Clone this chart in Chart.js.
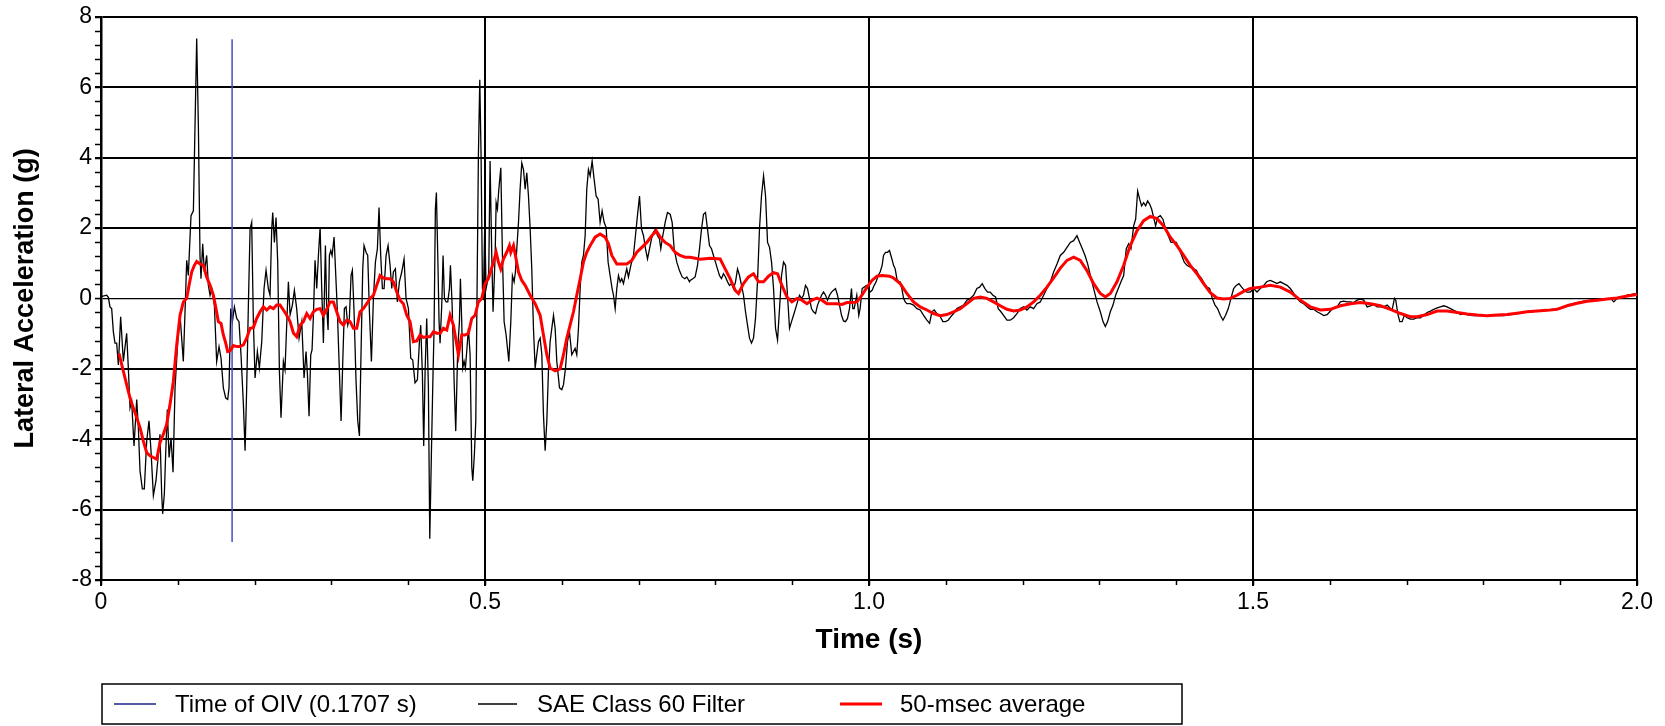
<!DOCTYPE html>
<html lang="en">
<head>
<meta charset="UTF-8">
<title>Lateral Acceleration</title>
<style>
  html, body { margin: 0; padding: 0; background: #fff; }
  #wrap { width: 1665px; height: 726px; }
</style>
</head>
<body>
<div id="wrap"><canvas id="accelChart" width="1665" height="726"></canvas></div>

<script src="https://cdn.jsdelivr.net/npm/chart.js"></script>
<script>
// time of OIV marker and the span of its vertical line (g)
const oivTime = 0.1707;
const oivSpan = [7.36, -6.92];

// SAE Class 60 filtered signal: time (s) / lateral acceleration (g)
const filterTime = [
  0.0000, 0.0074, 0.0096, 0.0117, 0.0139, 0.0161, 0.0182, 0.0204, 0.0226, 0.0256,
  0.0291, 0.0334, 0.0356, 0.0378, 0.0399, 0.0430, 0.0465, 0.0486, 0.0508, 0.0538,
  0.0564, 0.0595, 0.0625, 0.0651, 0.0682, 0.0716, 0.0747, 0.0768, 0.0790, 0.0803,
  0.0825, 0.0842, 0.0864, 0.0886, 0.0912, 0.0938, 0.0964, 0.0999, 0.1029, 0.1072,
  0.1094, 0.1116, 0.1137, 0.1172, 0.1203, 0.1224, 0.1246, 0.1268, 0.1289, 0.1302,
  0.1324, 0.1346, 0.1376, 0.1398, 0.1420, 0.1441, 0.1476, 0.1506, 0.1537, 0.1563,
  0.1593, 0.1624, 0.1650, 0.1667, 0.1689, 0.1711, 0.1737, 0.1767, 0.1797, 0.1823,
  0.1854, 0.1876, 0.1897, 0.1919, 0.1941, 0.1962, 0.1984, 0.2006, 0.2036, 0.2062,
  0.2093, 0.2123, 0.2149, 0.2179, 0.2201, 0.2223, 0.2236, 0.2258, 0.2279, 0.2301,
  0.2323, 0.2344, 0.2375, 0.2396, 0.2423, 0.2440, 0.2462, 0.2492, 0.2518, 0.2548,
  0.2579,
  0.2614, 0.2644, 0.2670, 0.2688, 0.2709, 0.2731, 0.2748, 0.2766, 0.2787, 0.2809,
  0.2831, 0.2853, 0.2874, 0.2896, 0.2922, 0.2939, 0.2957, 0.2974, 0.2992, 0.3009,
  0.3035, 0.3057, 0.3078, 0.3104, 0.3126, 0.3148, 0.3169, 0.3191, 0.3213, 0.3234,
  0.3256, 0.3273, 0.3295, 0.3321, 0.3343, 0.3365, 0.3382, 0.3408, 0.3425, 0.3451,
  0.3473, 0.3495, 0.3521, 0.3547, 0.3573, 0.3599, 0.3620, 0.3642, 0.3664, 0.3686,
  0.3712, 0.3738, 0.3764, 0.3786, 0.3807, 0.3833, 0.3859, 0.3885, 0.3916, 0.3946,
  0.3972, 0.4003, 0.4033, 0.4059, 0.4089, 0.4120, 0.4146, 0.4163, 0.4185, 0.4202,
  0.4220, 0.4241, 0.4263, 0.4281, 0.4302, 0.4320, 0.4337, 0.4354, 0.4367, 0.4385,
  0.4402, 0.4415, 0.4437, 0.4454, 0.4472, 0.4493, 0.4515, 0.4537, 0.4550, 0.4572,
  0.4598, 0.4619, 0.4645, 0.4667, 0.4680, 0.4697, 0.4710, 0.4728, 0.4745, 0.4762,
  0.4784, 0.4806, 0.4828, 0.4841, 0.4862, 0.4880, 0.4897, 0.4914, 0.4932, 0.4949,
  0.4967, 0.4979, 0.4997, 0.5014, 0.5031, 0.5049, 0.5066, 0.5088, 0.5105,
  0.5132, 0.5145, 0.5162, 0.5180, 0.5206, 0.5227, 0.5249, 0.5275, 0.5310, 0.5336,
  0.5357, 0.5379, 0.5396, 0.5414, 0.5436, 0.5457, 0.5479, 0.5501, 0.5523, 0.5544,
  0.5566, 0.5588, 0.5609, 0.5631, 0.5653, 0.5674, 0.5696, 0.5718, 0.5740, 0.5761,
  0.5783, 0.5805, 0.5826, 0.5848, 0.5870, 0.5892, 0.5913, 0.5935, 0.5970, 0.6000,
  0.6022, 0.6048, 0.6074, 0.6100, 0.6130, 0.6152, 0.6173, 0.6195, 0.6217, 0.6239,
  0.6260, 0.6282, 0.6304, 0.6325, 0.6347, 0.6369, 0.6395, 0.6421, 0.6447, 0.6473,
  0.6499, 0.6525, 0.6551, 0.6577, 0.6603, 0.6629, 0.6655, 0.6673, 0.6695, 0.6716,
  0.6738, 0.6760, 0.6781, 0.6803, 0.6825, 0.6846, 0.6868, 0.6899, 0.6933, 0.6959,
  0.6985, 0.7012, 0.7038, 0.7064, 0.7090, 0.7116, 0.7142, 0.7168, 0.7194, 0.7220,
  0.7246, 0.7272, 0.7289, 0.7315, 0.7346, 0.7376, 0.7411, 0.7437, 0.7463, 0.7497,
  0.7532, 0.7567, 0.7602, 0.7628, 0.7663,
  0.7671, 0.7706, 0.7736, 0.7767, 0.7793, 0.7819, 0.7845, 0.7871, 0.7897, 0.7923,
  0.7949, 0.7975, 0.8001, 0.8027, 0.8053, 0.8079, 0.8105, 0.8131, 0.8158, 0.8184,
  0.8210, 0.8236, 0.8262, 0.8288, 0.8314, 0.8340, 0.8366, 0.8392, 0.8418, 0.8444,
  0.8470, 0.8496, 0.8522, 0.8548, 0.8574, 0.8600, 0.8627, 0.8653, 0.8679, 0.8705,
  0.8731, 0.8757, 0.8783, 0.8809, 0.8835, 0.8861, 0.8887, 0.8913, 0.8939, 0.8965,
  0.8991, 0.9017, 0.9043, 0.9069, 0.9095, 0.9121, 0.9147, 0.9173, 0.9199, 0.9225,
  0.9251, 0.9277, 0.9304, 0.9330, 0.9356, 0.9382, 0.9408, 0.9434, 0.9460, 0.9486,
  0.9512, 0.9538, 0.9564, 0.9590, 0.9616, 0.9642, 0.9668, 0.9694, 0.9720, 0.9746,
  0.9772, 0.9789, 0.9807, 0.9824, 0.9841, 0.9867, 0.9884, 0.9911, 0.9937, 0.9963,
  0.9989, 1.0015, 1.0041, 1.0067, 1.0093, 1.0119, 1.0145, 1.0171, 1.0189, 1.0215,
  1.0241, 1.0267,
  1.0298, 1.0320, 1.0341, 1.0363, 1.0385, 1.0406, 1.0428, 1.0450, 1.0472, 1.0493,
  1.0537, 1.0580, 1.0624, 1.0667, 1.0711, 1.0754, 1.0789, 1.0819, 1.0849, 1.0884,
  1.0928, 1.0962, 1.0997, 1.1031, 1.1066, 1.1101, 1.1144, 1.1188, 1.1231, 1.1275,
  1.1318, 1.1362, 1.1405, 1.1440, 1.1474, 1.1509, 1.1544, 1.1578, 1.1613, 1.1648,
  1.1683, 1.1718, 1.1752, 1.1796, 1.1839, 1.1883, 1.1926, 1.1970, 1.2013, 1.2056,
  1.2100, 1.2143, 1.2187, 1.2230, 1.2274, 1.2317, 1.2361, 1.2404, 1.2448, 1.2491,
  1.2535, 1.2578, 1.2621, 1.2665, 1.2708, 1.2743, 1.2778, 1.2813, 1.2847, 1.2882,
  1.2925, 1.2969, 1.3012, 1.3047, 1.3077, 1.3107, 1.3142, 1.3177, 1.3211, 1.3246,
  1.3281, 1.3316, 1.3350, 1.3381, 1.3411, 1.3446, 1.3472, 1.3498, 1.3524, 1.3550,
  1.3576, 1.3602, 1.3628, 1.3654, 1.3680, 1.3706, 1.3732, 1.3758, 1.3793, 1.3827,
  1.3862, 1.3897, 1.3932, 1.3966, 1.4001, 1.4036, 1.4071, 1.4105, 1.4140, 1.4183,
  1.4227, 1.4262, 1.4296, 1.4331, 1.4366, 1.4401, 1.4435, 1.4470, 1.4505, 1.4539,
  1.4574, 1.4609, 1.4643, 1.4678, 1.4713, 1.4748, 1.4782, 1.4817, 1.4852, 1.4887,
  1.4921, 1.4965,
  1.5008, 1.5052, 1.5095, 1.5139, 1.5182, 1.5226, 1.5269, 1.5312, 1.5356, 1.5399,
  1.5443, 1.5486, 1.5530, 1.5573, 1.5617, 1.5660, 1.5703, 1.5747, 1.5790, 1.5834,
  1.5877, 1.5921, 1.5964, 1.6008, 1.6051, 1.6094, 1.6138, 1.6181, 1.6225, 1.6268,
  1.6312, 1.6355, 1.6399, 1.6442, 1.6486, 1.6529, 1.6572, 1.6616, 1.6659, 1.6703,
  1.6746, 1.6811, 1.6842, 1.6859, 1.6885, 1.6911, 1.6941, 1.6971, 1.7006, 1.7049,
  1.7093, 1.7136, 1.7180, 1.7223, 1.7267, 1.7310, 1.7353, 1.7397, 1.7440, 1.7484,
  1.7527, 1.7571, 1.7614, 1.7658, 1.7701, 1.7744, 1.7788, 1.7831, 1.7875, 1.7918,
  1.8005, 1.8092, 1.8179, 1.8265, 1.8352, 1.8438, 1.8525, 1.8612, 1.8699, 1.8786,
  1.8873, 1.8960, 1.9047, 1.9133, 1.9220, 1.9307, 1.9394, 1.9481, 1.9568, 1.9655,
  1.9698, 1.9742, 1.9785, 1.9829, 1.9872, 1.9916, 1.9959, 1.9994
];
const filterAccel = [
  0.05, 0.09, 0.03, -0.24, -0.29, -0.95, -1.27, -1.27, -1.89, -0.52,
  -1.79, -0.99, -1.98, -3.11, -2.92, -4.19, -2.87, -3.67, -4.90, -5.41,
  -5.41, -4.05, -3.48, -4.33, -5.60, -5.18, -4.42, -3.86, -5.55, -6.12,
  -5.55, -4.42, -3.16, -4.52, -3.96, -4.94, -2.54, -1.23, -0.47, -1.79,
  -0.38, 1.08, 0.65, 2.35, 2.49, 4.89, 7.38, 4.89, 1.22, 0.56,
  1.55, 0.75, 1.22, 0.37, 0.09, 0.28, -0.19, -1.79, -1.37, -1.70,
  -2.54, -2.83, -2.87, -2.54, -0.29, -0.66, -0.24, -0.57, -0.66, -1.60,
  -3.01, -4.33, -2.54, -0.19, 1.97, 2.16, -0.66, -2.26, -1.51, -1.98,
  -1.23, 0.28, 0.80, 0.28, 0.09, 1.97, 2.44, 1.59, 2.30, 1.03,
  -2.07, -3.39, -1.79, -2.03, -0.47, 0.47, -0.47, -0.19, 0.23, -0.29,
  -1.13,
  -0.66, -2.26, -1.51, -2.17, -3.35, -1.60, -1.46, -0.47, 1.08, 0.28,
  1.22, 2.02, 0.28, -1.27, 1.50, -0.29, -0.90, 1.22, 1.36, 1.22,
  1.74, 0.65, -0.38, -2.07, -3.48, -1.79, -0.29, -0.24, -0.76, -0.57,
  0.65, 0.80, -0.38, -2.36, -3.48, -3.91, -1.98, 0.84, 1.50, 1.31,
  1.22, -0.38, -1.79, 0.00, 1.03, 1.41, 2.58, 1.22, 0.28, 0.28,
  1.22, 1.50, 0.94, 0.28, 0.75, 0.84, -0.10, 0.47, 0.75, 1.12,
  0.00, -0.29, -1.70, -1.75, -2.40, -2.31, -1.23, -0.76, -2.17, -4.19,
  -2.07, -0.57, -2.54, -6.83, -4.42, -2.45, -0.85, 2.54, 3.01, 1.22,
  -0.66, -1.27, -0.19, 1.22, 0.00, -0.10, -0.10, 0.28, 0.94, -0.19,
  -2.36, -3.77, -1.42, -0.66, 0.56, -0.66, -1.98, -1.79, -1.98, -1.51,
  -0.85, -1.60, -4.80, -5.18, -4.42, -3.48, 0.28, 4.04, 6.21, 4.04,
  0.28, -0.05, 2.16, 0.28, 0.47, 0.75, 3.90, 1.22, -0.38,
  1.22, 2.72, 2.54, 3.10, 3.71, 1.22, -0.66, -1.04, -1.79, -0.66,
  0.65, 0.47, 0.75, 1.41, 2.16, 3.10, 3.85, 3.66, 3.10, 3.57,
  2.91, 1.97, 0.84, -0.85, -1.98, -1.60, -1.23, -1.13, -1.60, -3.30,
  -4.33, -3.49, -2.07, -1.23, -0.85, -0.48, -0.85, -1.79, -2.54, -2.59,
  -2.45, -1.98, -1.23, -0.95, -1.60, -1.51, -1.42, -1.60, -0.85, 0.28,
  1.03, 1.22, 1.78, 3.10, 3.66, 3.48, 3.90, 3.38, 2.91, 2.82,
  2.16, 2.49, 2.16, 2.02, 1.03, 0.65, 0.28, 0.09, -0.29, 0.28,
  0.65, 0.47, 0.56, 0.42, 0.65, 0.84, 0.61, 0.94, 1.22, 1.78,
  2.35, 2.91, 1.97, 1.78, 1.41, 1.12, 1.41, 1.69, 1.88, 1.97,
  1.78, 1.69, 1.41, 1.78, 2.16, 2.44, 2.39, 2.16, 1.41, 1.03,
  0.79, 0.61, 0.56, 0.61, 0.47,
  0.51, 0.56, 0.61, 0.94, 1.41, 1.97, 2.39, 2.44, 1.97, 1.50,
  1.41, 1.22, 1.03, 0.84, 0.65, 0.56, 0.70, 0.61, 0.47, 0.37,
  0.42, 0.28, 0.47, 0.84, 0.65, 0.37, 0.09, -0.38, -0.76, -1.13,
  -1.27, -1.13, -0.57, 0.47, 1.97, 2.91, 3.48, 2.91, 1.59, 1.45,
  1.03, 0.28, -0.85, -1.18, -0.29, 0.65, 1.03, 0.94, 0.09, -0.85,
  -0.66, -0.48, -0.29, -0.10, 0.09, 0.00, 0.09, 0.37, 0.28, 0.00,
  -0.29, -0.38, -0.43, -0.19, -0.05, 0.09, 0.18, 0.09, -0.05, 0.09,
  0.18, 0.23, 0.28, 0.09, -0.19, -0.48, -0.64, -0.66, -0.57, -0.29,
  0.28, -0.29, -0.29, -0.10, 0.09, -0.48, -0.29, 0.28, 0.32, 0.37,
  0.28, 0.18, 0.23, 0.37, 0.47, 0.65, 0.75, 0.94, 1.22, 1.31,
  1.31, 1.36,
  1.12, 0.94, 0.84, 0.56, 0.47, 0.47, 0.28, 0.00, -0.10, -0.15,
  -0.15, -0.19, -0.29, -0.33, -0.48, -0.62, -0.71, -0.38, -0.33, -0.43,
  -0.52, -0.66, -0.66, -0.62, -0.52, -0.43, -0.29, -0.24, -0.19, -0.05,
  0.00, 0.09, 0.28, 0.32, 0.42, 0.28, 0.18, 0.18, 0.09, 0.04,
  -0.29, -0.38, -0.48, -0.62, -0.62, -0.55, -0.43, -0.29, -0.24, -0.33,
  -0.24, -0.29, -0.15, -0.10, 0.09, 0.28, 0.47, 0.75, 0.98, 1.22,
  1.31, 1.45, 1.59, 1.64, 1.78, 1.59, 1.41, 1.22, 0.98, 0.65,
  0.28, -0.10, -0.38, -0.66, -0.80, -0.66, -0.38, -0.19, 0.09, 0.28,
  0.47, 0.65, 1.41, 1.55, 1.41, 2.06, 2.25, 3.05, 2.82, 2.63,
  2.72, 2.63, 2.77, 2.68, 2.54, 2.30, 2.06, 2.30, 2.35, 2.25,
  1.97, 1.78, 1.59, 1.59, 1.59, 1.41, 1.22, 1.03, 0.94, 0.89,
  0.84, 0.80, 0.65, 0.56, 0.42, 0.32, 0.28, 0.00, -0.19, -0.29,
  -0.48, -0.62, -0.48, -0.29, 0.00, 0.28, 0.37, 0.42, 0.32, 0.23,
  0.18, 0.18,
  0.28, 0.18, 0.28, 0.37, 0.48, 0.51, 0.47, 0.42, 0.47, 0.42,
  0.37, 0.28, 0.14, 0.00, -0.10, -0.15, -0.24, -0.31, -0.31, -0.38,
  -0.43, -0.49, -0.46, -0.36, -0.27, -0.24, -0.10, -0.08, -0.10, -0.10,
  -0.12, -0.05, -0.02, -0.05, -0.24, -0.21, -0.17, -0.24, -0.24, -0.24,
  -0.19, -0.33, 0.00, -0.05, -0.43, -0.66, -0.66, -0.48, -0.55, -0.59,
  -0.59, -0.55, -0.55, -0.48, -0.40, -0.36, -0.31, -0.27, -0.24, -0.21,
  -0.24, -0.29, -0.34, -0.38, -0.46, -0.43, -0.46, -0.48, -0.49, -0.49,
  -0.49, -0.49, -0.48, -0.49, -0.46, -0.43, -0.38, -0.38, -0.36, -0.34,
  -0.32, -0.29, -0.24, -0.17, -0.12, -0.08, -0.05, -0.03, -0.02, 0.00,
  -0.10, 0.00, 0.04, 0.04, 0.09, 0.11, 0.13, 0.13
];

// 50-msec running average: time (s) / lateral acceleration (g)
const avgTime = [
  0.0234, 0.0291, 0.0334, 0.0378, 0.0421, 0.0465, 0.0508, 0.0551, 0.0595, 0.0638,
  0.0682, 0.0725, 0.0768, 0.0812, 0.0855, 0.0899, 0.0942, 0.0986, 0.1029, 0.1072,
  0.1116, 0.1146, 0.1181, 0.1216, 0.1246, 0.1289, 0.1333, 0.1376, 0.1420, 0.1463,
  0.1493, 0.1528, 0.1563, 0.1593, 0.1624, 0.1650, 0.1680, 0.1724, 0.1767, 0.1810,
  0.1854, 0.1897, 0.1941, 0.1984, 0.2027, 0.2071, 0.2114, 0.2158, 0.2201, 0.2245,
  0.2288, 0.2331, 0.2375, 0.2418, 0.2462, 0.2505, 0.2548, 0.2592, 0.2635, 0.2679,
  0.2722, 0.2766, 0.2809, 0.2853, 0.2896, 0.2939, 0.2983, 0.3026, 0.3069, 0.3113,
  0.3157, 0.3200, 0.3243, 0.3287, 0.3330, 0.3373, 0.3417, 0.3460, 0.3503, 0.3547,
  0.3590, 0.3634, 0.3677, 0.3721, 0.3764, 0.3807, 0.3851, 0.3894, 0.3937, 0.3981,
  0.4024, 0.4068, 0.4111, 0.4155, 0.4198, 0.4241, 0.4285, 0.4328, 0.4372, 0.4415,
  0.4458, 0.4502, 0.4545, 0.4589, 0.4632, 0.4654, 0.4697, 0.4741, 0.4784, 0.4828,
  0.4871, 0.4914, 0.4958, 0.5001, 0.5044, 0.5110, 0.5145, 0.5175, 0.5205, 0.5240,
  0.5283, 0.5318, 0.5336, 0.5371, 0.5405, 0.5436, 0.5479, 0.5523, 0.5588, 0.5653,
  0.5718, 0.5761, 0.5805, 0.5848, 0.5913, 0.5978, 0.6022, 0.6065, 0.6108, 0.6152,
  0.6195, 0.6239, 0.6282, 0.6325, 0.6369, 0.6434, 0.6499, 0.6564, 0.6608, 0.6651,
  0.6716, 0.6781, 0.6846, 0.6911, 0.6977, 0.7042, 0.7107, 0.7172, 0.7229, 0.7281,
  0.7346, 0.7411, 0.7476, 0.7541, 0.7606, 0.7671, 0.7802, 0.7932, 0.8062, 0.8127,
  0.8192, 0.8258, 0.8301, 0.8366, 0.8431, 0.8496, 0.8561, 0.8627, 0.8692, 0.8757,
  0.8809, 0.8866, 0.8931, 0.8996, 0.9062, 0.9127, 0.9192, 0.9257, 0.9322, 0.9387,
  0.9452, 0.9518, 0.9583, 0.9648, 0.9713, 0.9778, 0.9843, 0.9908, 0.9974, 1.0039,
  1.0104, 1.0169, 1.0268, 1.0320, 1.0406, 1.0493, 1.0580, 1.0667, 1.0754, 1.0840,
  1.0927, 1.1014, 1.1101, 1.1188, 1.1275, 1.1362, 1.1449, 1.1535, 1.1622, 1.1709,
  1.1796, 1.1883, 1.1970, 1.2056, 1.2143, 1.2230, 1.2317, 1.2404, 1.2491, 1.2578,
  1.2665, 1.2751, 1.2838, 1.2925, 1.3012, 1.3077, 1.3142, 1.3229, 1.3316, 1.3402,
  1.3489, 1.3576, 1.3663, 1.3749, 1.3836, 1.3923, 1.4010, 1.4097, 1.4183, 1.4270,
  1.4357, 1.4444, 1.4531, 1.4618, 1.4704, 1.4791, 1.4878, 1.4965, 1.5095, 1.5226,
  1.5356, 1.5486, 1.5617, 1.5747, 1.5877, 1.6008, 1.6138, 1.6268, 1.6399, 1.6529,
  1.6659, 1.6790, 1.6920, 1.7049, 1.7136, 1.7267, 1.7397, 1.7527, 1.7658, 1.7788,
  1.7918, 1.8048, 1.8179, 1.8309, 1.8438, 1.8569, 1.8699, 1.8829, 1.8960, 1.9090,
  1.9220, 1.9351, 1.9481, 1.9611, 1.9742, 1.9872, 2.0000
];
const avgAccel = [
  -1.56, -2.07, -2.45, -2.83, -3.11, -3.39, -3.67, -4.05, -4.38, -4.47,
  -4.52, -4.57, -4.10, -3.86, -3.58, -3.01, -2.36, -1.32, -0.48, -0.10,
  0.00, 0.37, 0.75, 0.94, 1.05, 0.98, 0.94, 0.61, 0.37, 0.09,
  -0.24, -0.66, -0.71, -1.04, -1.27, -1.51, -1.49, -1.34, -1.37, -1.37,
  -1.32, -1.13, -0.85, -0.83, -0.57, -0.38, -0.24, -0.33, -0.24, -0.29,
  -0.19, -0.19, -0.33, -0.48, -0.66, -0.98, -1.09, -0.76, -0.66, -0.43,
  -0.57, -0.38, -0.31, -0.29, -0.48, -0.31, -0.10, -0.10, -0.38, -0.66,
  -0.76, -0.62, -0.66, -0.85, -0.85, -0.38, -0.29, -0.15, 0.00, 0.09,
  0.37, 0.65, 0.58, 0.56, 0.56, 0.47, 0.18, -0.05, -0.15, -0.48,
  -0.66, -1.23, -1.21, -1.04, -1.11, -1.09, -1.09, -0.95, -0.99, -0.99,
  -0.85, -0.90, -0.48, -0.76, -1.32, -1.60, -1.04, -1.04, -0.99, -0.57,
  -0.48, -0.10, 0.00, 0.42, 0.56, 1.03, 1.31, 1.03, 0.84, 1.12,
  1.31, 1.50, 1.31, 1.50, 1.12, 0.75, 0.51, 0.37, 0.09, -0.15,
  -0.48, -1.04, -1.60, -1.98, -2.06, -2.00, -1.60, -1.13, -0.76, -0.38,
  0.09, 0.56, 1.03, 1.31, 1.50, 1.74, 1.83, 1.74, 1.55, 1.22,
  0.98, 0.98, 0.98, 1.08, 1.31, 1.45, 1.59, 1.78, 1.92, 1.74,
  1.59, 1.50, 1.31, 1.22, 1.17, 1.17, 1.11, 1.14, 1.12, 0.84,
  0.56, 0.23, 0.14, 0.42, 0.61, 0.70, 0.47, 0.47, 0.63, 0.73,
  0.70, 0.37, 0.04, -0.10, 0.00, -0.05, -0.15, -0.05, 0.01, -0.05,
  -0.15, -0.15, -0.15, -0.17, -0.12, -0.12, -0.10, 0.09, 0.32, 0.51,
  0.63, 0.65, 0.63, 0.58, 0.42, 0.14, -0.10, -0.24, -0.33, -0.43,
  -0.49, -0.46, -0.38, -0.29, -0.15, 0.00, 0.04, 0.00, -0.10, -0.21,
  -0.31, -0.36, -0.33, -0.24, -0.10, 0.09, 0.32, 0.58, 0.86, 1.08,
  1.17, 1.08, 0.79, 0.42, 0.14, 0.04, 0.14, 0.47, 0.94, 1.50,
  1.92, 2.21, 2.33, 2.27, 2.06, 1.74, 1.50, 1.22, 0.94, 0.70,
  0.42, 0.16, 0.01, -0.02, 0.00, 0.09, 0.20, 0.28, 0.32, 0.37,
  0.32, 0.18, -0.05, -0.24, -0.33, -0.31, -0.21, -0.15, -0.12, -0.15,
  -0.21, -0.31, -0.43, -0.52, -0.52, -0.46, -0.36, -0.36, -0.40, -0.44,
  -0.47, -0.49, -0.47, -0.46, -0.42, -0.38, -0.36, -0.34, -0.31, -0.21,
  -0.14, -0.08, -0.05, -0.02, 0.01, 0.07, 0.11
];

const FONT = '"Liberation Sans", Arial, sans-serif';

const toPoints = (ts, vs) => ts.map((t, i) => ({ x: t, y: vs[i] }));

// small tick marks between the labelled ones: 0.4 g on y, 0.1 s on x
const minorTicks = {
  id: 'minorTicks',
  afterDraw(chart) {
    const { ctx, scales: { x, y } } = chart;
    ctx.save();
    ctx.strokeStyle = '#000';
    ctx.lineWidth = 1.5;
    ctx.beginPath();
    for (let i = 0; i <= 40; i++) {
      const py = Math.round(y.getPixelForValue(-8 + i * 0.4)) + 0.5;
      ctx.moveTo(x.left - 6, py);
      ctx.lineTo(x.left, py);
    }
    for (let i = 0; i <= 20; i++) {
      const px = Math.round(x.getPixelForValue(i * 0.1)) + 0.5;
      ctx.moveTo(px, y.bottom);
      ctx.lineTo(px, y.bottom + 5);
    }
    ctx.stroke();
    ctx.restore();
  }
};

// legend in a box under the x axis title
const legendSlots = [
  { ds: 0, x0: 114, x1: 156, tx: 175 },
  { ds: 1, x0: 478, x1: 517, tx: 537 },
  { ds: 2, x0: 840, x1: 882, tx: 900 }
];
const boxedLegend = {
  id: 'boxedLegend',
  afterDraw(chart) {
    const { ctx } = chart;
    const top = 684, h = 40, mid = top + h / 2;
    ctx.save();
    ctx.strokeStyle = '#000';
    ctx.lineWidth = 1.5;
    ctx.strokeRect(102, top, 1080, h);
    ctx.font = '24px ' + FONT;
    ctx.textBaseline = 'middle';
    ctx.textAlign = 'left';
    legendSlots.forEach(s => {
      const ds = chart.data.datasets[s.ds];
      ctx.strokeStyle = ds.legendColor || ds.borderColor;
      ctx.lineWidth = ds.borderWidth;
      ctx.beginPath();
      ctx.moveTo(s.x0, mid);
      ctx.lineTo(s.x1, mid);
      ctx.stroke();
      ctx.fillStyle = '#000';
      ctx.fillText(ds.label, s.tx, mid + 1);
    });
    ctx.restore();
  }
};

const ctx = document.getElementById('accelChart').getContext('2d');
new Chart(ctx, {
  type: 'scatter',
  data: {
    datasets: [
      {
        label: 'Time of OIV (0.1707 s)',
        data: [{ x: oivTime, y: oivSpan[0] }, { x: oivTime, y: oivSpan[1] }],
        showLine: true,
        borderColor: '#4a4ac4',
        legendColor: '#20208c',
        borderWidth: 1.5,
        pointRadius: 0,
        order: 1
      },
      {
        label: 'SAE Class 60 Filter',
        data: toPoints(filterTime, filterAccel),
        showLine: true,
        borderColor: '#000000',
        borderWidth: 1.3,
        pointRadius: 0,
        order: 2
      },
      {
        label: '50-msec average',
        data: toPoints(avgTime, avgAccel),
        showLine: true,
        borderColor: '#ff0000',
        borderWidth: 3,
        pointRadius: 0,
        order: 0
      }
    ]
  },
  options: {
    responsive: false,
    animation: false,
    devicePixelRatio: 1,
    events: [],
    layout: { padding: { top: 13, right: 28, bottom: 0, left: 0 } },
    plugins: {
      legend: { display: false },
      tooltip: { enabled: false }
    },
    scales: {
      x: {
        type: 'linear',
        min: 0,
        max: 2,
        ticks: {
          stepSize: 0.5,
          autoSkip: false,
          maxRotation: 0,
          padding: 3,
          color: '#000',
          font: { family: FONT, size: 23 },
          callback: v => v === 0 ? '0' : v.toFixed(1)
        },
        grid: { color: '#000', lineWidth: 2, tickLength: 6 },
        border: { color: '#000', width: 2 },
        title: {
          display: true,
          text: 'Time (s)',
          color: '#000',
          font: { family: FONT, size: 28, weight: 'bold' },
          padding: { top: 0, bottom: 69 }
        },
        afterFit: s => { s.height = 146; }
      },
      y: {
        min: -8,
        max: 8,
        ticks: {
          stepSize: 2,
          padding: 3,
          color: '#000',
          font: { family: FONT, size: 23 }
        },
        grid: {
          color: '#000',
          lineWidth: c => (c.tick && c.tick.value === 0) ? 1.2 : 2,
          tickLength: 6
        },
        border: { color: '#000', width: 2.5 },
        title: {
          display: true,
          text: 'Lateral Acceleration (g)',
          color: '#000',
          font: { family: FONT, size: 27, weight: 'bold' },
          padding: { top: 9, bottom: 0 }
        },
        afterFit: s => { s.width = 101; }
      }
    }
  },
  plugins: [minorTicks, boxedLegend]
});
</script>
</body>
</html>
